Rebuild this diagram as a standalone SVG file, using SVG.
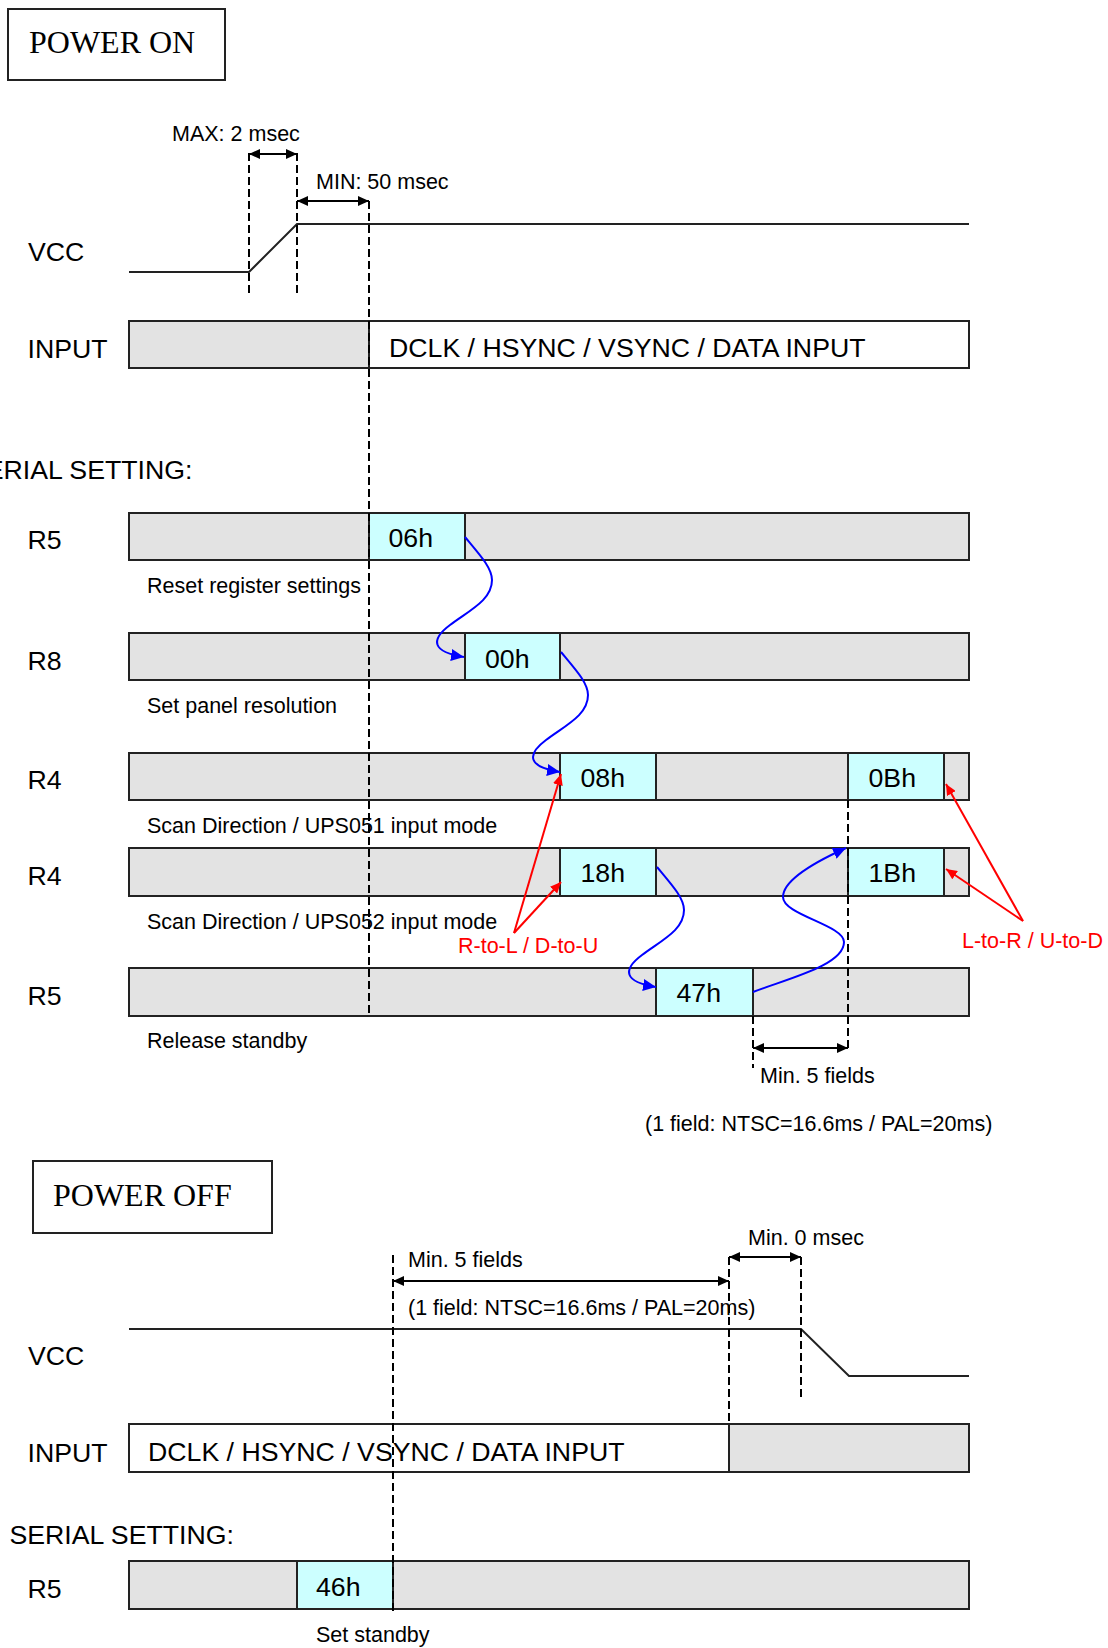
<svg xmlns="http://www.w3.org/2000/svg" width="1108" height="1648" viewBox="0 0 1108 1648">
<defs>
<style>
text{font-family:"Liberation Sans",Arial,sans-serif;fill:#000}
.lbl{font-size:26.7px}
.sm{font-size:21.5px}
.ttl{font-family:"Liberation Serif","Times New Roman",serif;font-size:32px}
.red{fill:#f00}
.frame{fill:#fff;stroke:#222;stroke-width:2}
.bar{fill:#e3e3e3;stroke:#222;stroke-width:2}
.cell{fill:#ccffff;stroke:#222;stroke-width:2}
.wht{fill:#fff;stroke:#222;stroke-width:2}
.sig{fill:none;stroke:#222;stroke-width:2}
.dash{fill:none;stroke:#000;stroke-width:2;stroke-dasharray:8 4}
.dim{fill:none;stroke:#000;stroke-width:2;marker-start:url(#dimA);marker-end:url(#dimA)}
.blue{fill:none;stroke:#00f;stroke-width:2;marker-end:url(#blueA)}
.redl{fill:none;stroke:#f00;stroke-width:2;marker-end:url(#redA)}
</style>
<marker id="dimA" markerUnits="userSpaceOnUse" markerWidth="12" markerHeight="10" refX="11" refY="5" orient="auto-start-reverse"><path d="M0,0 L11,5 L0,10 z" fill="#000"/></marker>
<marker id="blueA" markerUnits="userSpaceOnUse" markerWidth="14" markerHeight="12" refX="13" refY="6" orient="auto"><path d="M0,0 L13,6 L0,12 z" fill="#00f"/></marker>
<marker id="redA" markerUnits="userSpaceOnUse" markerWidth="12" markerHeight="10" refX="11" refY="5" orient="auto"><path d="M0,0 L11,5 L0,10 z" fill="#f00"/></marker>
</defs>
<rect width="1108" height="1648" fill="#fff"/>

<!-- POWER ON section -->
<g id="title-power-on"><rect class="frame" x="8" y="9" width="217" height="71"/><text class="ttl" x="29" y="53">POWER ON</text></g>

<g id="vcc-on">
<text class="lbl" x="28" y="261">VCC</text>
<polyline class="sig" points="129,272 249,272 297,224 969,224"/>
</g>

<g id="input-on">
<text class="lbl" x="27.5" y="358">INPUT</text>
<rect class="bar" x="129" y="321" width="240" height="47"/>
<rect class="wht" x="369" y="321" width="600" height="47"/>
<text class="lbl" x="389" y="357">DCLK / HSYNC / VSYNC / DATA INPUT</text>
</g>

<text id="serial-on" class="lbl" x="-32" y="479">SERIAL SETTING:</text>

<g id="r5-reset">
<text class="lbl" x="27.5" y="549">R5</text>
<rect class="bar" x="129" y="513" width="840" height="47"/>
<rect class="cell" x="369" y="513" width="96" height="47"/>
<text class="lbl" x="388.5" y="547">06h</text>
<text class="sm" x="147" y="593">Reset register settings</text>
</g>

<g id="r8-res">
<text class="lbl" x="27.5" y="670">R8</text>
<rect class="bar" x="129" y="633" width="840" height="47"/>
<rect class="cell" x="465" y="633" width="95" height="47"/>
<text class="lbl" x="485" y="668">00h</text>
<text class="sm" x="147" y="713">Set panel resolution</text>
</g>

<g id="r4-ups051">
<text class="lbl" x="27.5" y="789">R4</text>
<rect class="bar" x="129" y="753" width="840" height="47"/>
<rect class="cell" x="560" y="753" width="96" height="47"/>
<rect class="cell" x="848" y="753" width="96" height="47"/>
<text class="lbl" x="580.5" y="787">08h</text>
<text class="lbl" x="868.5" y="787">0Bh</text>
<text class="sm" x="147" y="833">Scan Direction / UPS051 input mode</text>
</g>

<g id="r4-ups052">
<text class="lbl" x="27.5" y="885">R4</text>
<rect class="bar" x="129" y="848" width="840" height="48"/>
<rect class="cell" x="560" y="848" width="96" height="48"/>
<rect class="cell" x="848" y="848" width="96" height="48"/>
<text class="lbl" x="580.5" y="882">18h</text>
<text class="lbl" x="868.5" y="882">1Bh</text>
<text class="sm" x="147" y="929">Scan Direction / UPS052 input mode</text>
</g>

<g id="r5-release">
<text class="lbl" x="27.5" y="1005">R5</text>
<rect class="bar" x="129" y="968" width="840" height="48"/>
<rect class="cell" x="656" y="968" width="97" height="48"/>
<text class="lbl" x="676.5" y="1002">47h</text>
<text class="sm" x="147" y="1048">Release standby</text>
</g>

<g id="note-rl"><text class="sm red" x="458" y="953">R-to-L / D-to-U</text></g>
<g id="note-lr"><text class="sm red" x="962" y="948">L-to-R / U-to-D</text></g>

<g id="timing-on">
<text class="sm" x="172" y="141">MAX: 2 msec</text>
<text class="sm" x="316" y="189">MIN: 50 msec</text>
<text class="sm" x="760" y="1083">Min. 5 fields</text>
<text class="sm" x="645" y="1131">(1 field: NTSC=16.6ms / PAL=20ms)</text>
</g>

<!-- POWER OFF section -->
<g id="title-power-off"><rect class="frame" x="33" y="1161" width="239" height="72"/><text class="ttl" x="53" y="1206">POWER OFF</text></g>

<g id="vcc-off">
<text class="lbl" x="28" y="1365">VCC</text>
<polyline class="sig" points="129,1329 801,1329 849,1376 969,1376"/>
</g>

<g id="input-off">
<text class="lbl" x="27.5" y="1462">INPUT</text>
<rect class="wht" x="129" y="1424" width="600" height="48"/>
<rect class="bar" x="729" y="1424" width="240" height="48"/>
<text class="lbl" x="148" y="1461">DCLK / HSYNC / VSYNC / DATA INPUT</text>
</g>

<text id="serial-off" class="lbl" x="9.5" y="1544">SERIAL SETTING:</text>

<g id="r5-standby">
<text class="lbl" x="27.5" y="1598">R5</text>
<rect class="bar" x="129" y="1561" width="840" height="48"/>
<rect class="cell" x="297" y="1561" width="96" height="48"/>
<text class="lbl" x="316" y="1596">46h</text>
<text class="sm" x="316" y="1642">Set standby</text>
</g>

<g id="timing-off">
<text class="sm" x="748" y="1245">Min. 0 msec</text>
<text class="sm" x="408" y="1267">Min. 5 fields</text>
<text class="sm" x="408" y="1315">(1 field: NTSC=16.6ms / PAL=20ms)</text>
</g>

<!-- connectors -->
<g id="connectors">
<g id="guides">
<line class="dash" x1="249" y1="153" x2="249" y2="295"/>
<line class="dash" x1="297" y1="153" x2="297" y2="295"/>
<line class="dash" x1="369" y1="201" x2="369" y2="1016"/>
<line class="dash" x1="753" y1="1016" x2="753" y2="1068"/>
<line class="dash" x1="848" y1="800" x2="848" y2="1050"/>
<line class="dash" x1="393" y1="1255" x2="393" y2="1613"/>
<line class="dash" x1="729" y1="1257" x2="729" y2="1424"/>
<line class="dash" x1="801" y1="1257" x2="801" y2="1398"/>
</g>
<g id="dimensions">
<line class="dim" x1="249" y1="154" x2="297" y2="154"/>
<line class="dim" x1="297" y1="201" x2="369" y2="201"/>
<line class="dim" x1="753" y1="1048" x2="848" y2="1048"/>
<line class="dim" x1="393" y1="1281" x2="729" y2="1281"/>
<line class="dim" x1="729" y1="1257" x2="801" y2="1257"/>
</g>
<g id="sequence">
<path class="blue" d="M465,537 C480,555 492,568 492,580 C492,600 470,610 450,625 C430,640 432,652 464,657"/>
<path class="blue" d="M561,652 C576,670 588,683 588,695 C588,715 566,725 546,740 C526,755 528,767 560,772"/>
<path class="blue" d="M657,867 C672,885 684,898 684,910 C684,930 662,940 642,955 C622,970 624,982 656,987"/>
<path class="blue" d="M753,992 C790,978 844,965 844,942 C844,925 783,915 783,897 C783,880 815,862 846,848"/>
</g>
<g id="notes">
<line class="redl" x1="514" y1="933" x2="561" y2="774"/>
<line class="redl" x1="514" y1="933" x2="561" y2="882"/>
<line class="redl" x1="1023" y1="921" x2="946" y2="784"/>
<line class="redl" x1="1023" y1="921" x2="946" y2="869"/>
</g>
</g>
</svg>
